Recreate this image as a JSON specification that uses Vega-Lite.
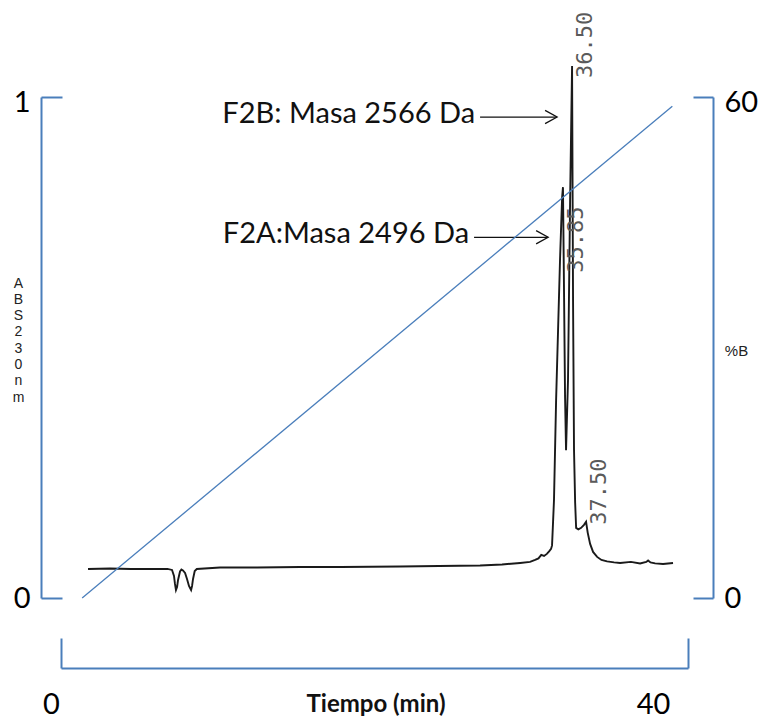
{
  "$schema": "https://vega.github.io/schema/vega-lite/v6.json",
  "width": 627,
  "height": 501,
  "autosize": {"type": "none"},
  "padding": {"left": 61, "top": 97, "right": 74, "bottom": 121},
  "background": "white",
  "config": {"view": {"stroke": null}},
  "datasets": {
    "chromatogram": [
      {"t": 1.93, "a": 0.058}, {"t": 3.5, "a": 0.059}, {"t": 5.0, "a": 0.058}, {"t": 6.36, "a": 0.058},
      {"t": 7.6, "a": 0.058}, {"t": 7.93, "a": 0.056}, {"t": 8.07, "a": 0.044}, {"t": 8.14, "a": 0.028},
      {"t": 8.21, "a": 0.016}, {"t": 8.29, "a": 0.022}, {"t": 8.36, "a": 0.036}, {"t": 8.5, "a": 0.053},
      {"t": 8.6, "a": 0.057}, {"t": 8.71, "a": 0.055}, {"t": 8.86, "a": 0.05}, {"t": 9.0, "a": 0.038},
      {"t": 9.14, "a": 0.024}, {"t": 9.29, "a": 0.016}, {"t": 9.36, "a": 0.024}, {"t": 9.43, "a": 0.038},
      {"t": 9.55, "a": 0.054}, {"t": 9.7, "a": 0.058}, {"t": 11.36, "a": 0.061}, {"t": 14.0, "a": 0.061},
      {"t": 17.07, "a": 0.062}, {"t": 20.0, "a": 0.062}, {"t": 24.21, "a": 0.063}, {"t": 27.0, "a": 0.064},
      {"t": 29.93, "a": 0.065}, {"t": 31.5, "a": 0.067}, {"t": 32.79, "a": 0.07}, {"t": 33.5, "a": 0.072},
      {"t": 33.86, "a": 0.076}, {"t": 34.1, "a": 0.079}, {"t": 34.3, "a": 0.086}, {"t": 34.5, "a": 0.084},
      {"t": 34.7, "a": 0.088}, {"t": 34.86, "a": 0.093}, {"t": 35.0, "a": 0.098}, {"t": 35.07, "a": 0.105},
      {"t": 35.14, "a": 0.15}, {"t": 35.21, "a": 0.196}, {"t": 35.36, "a": 0.395}, {"t": 35.5, "a": 0.535},
      {"t": 35.64, "a": 0.675}, {"t": 35.79, "a": 0.8}, {"t": 35.85, "a": 0.82}, {"t": 35.93, "a": 0.6},
      {"t": 36.0, "a": 0.4}, {"t": 36.07, "a": 0.295}, {"t": 36.21, "a": 0.435}, {"t": 36.36, "a": 0.794},
      {"t": 36.5, "a": 1.062}, {"t": 36.57, "a": 0.595}, {"t": 36.64, "a": 0.295}, {"t": 36.72, "a": 0.19},
      {"t": 36.79, "a": 0.14}, {"t": 36.95, "a": 0.137}, {"t": 37.15, "a": 0.14}, {"t": 37.35, "a": 0.146},
      {"t": 37.5, "a": 0.152}, {"t": 37.62, "a": 0.13}, {"t": 37.79, "a": 0.108}, {"t": 38.0, "a": 0.092},
      {"t": 38.29, "a": 0.082}, {"t": 38.6, "a": 0.076}, {"t": 39.0, "a": 0.073}, {"t": 39.5, "a": 0.071},
      {"t": 39.93, "a": 0.07}, {"t": 40.7, "a": 0.072}, {"t": 41.36, "a": 0.069}, {"t": 41.8, "a": 0.072},
      {"t": 41.93, "a": 0.075}, {"t": 42.1, "a": 0.071}, {"t": 42.43, "a": 0.069}, {"t": 43.0, "a": 0.068},
      {"t": 43.71, "a": 0.07}
    ],
    "peaks": [
      {"rt": "35.85", "t": 35.85, "a": 0.649},
      {"rt": "36.50", "t": 36.5, "a": 1.038},
      {"rt": "37.50", "t": 37.5, "a": 0.146}
    ],
    "fractions": [
      {"label": "F2B: Masa 2566 Da", "t0": 29.93, "t": 35.43, "a": 0.96},
      {"label": "F2A:Masa 2496 Da", "t0": 29.5, "t": 34.79, "a": 0.72}
    ],
    "gradient": [
      {"t": 1.35, "b": 0},
      {"t": 39.0, "b": 58.9}
    ]
  },
  "layer": [
    {
      "encoding": {
        "x": {"field": "t", "type": "quantitative", "scale": {"domain": [0, 44.78], "nice": false, "zero": false}, "axis": null},
        "y": {
          "field": "a", "type": "quantitative",
          "scale": {"domain": [0, 1], "nice": false},
          "axis": {
            "orient": "left", "offset": 20, "values": [0, 1], "format": "d",
            "grid": false,
            "domainColor": "#4a7ebb", "domainWidth": 2,
            "tickColor": "#4a7ebb", "tickWidth": 2, "tickSize": -21,
            "labelFont": "Lato", "labelFontSize": 29, "labelColor": "#000000",
            "labelPadding": 32, "labelBaseline": "middle", "labelFlush": false,
            "labelOffset": {"condition": {"test": "datum.value === 1", "value": 5}, "value": 0},
            "title": ["A", "B", "S", "2", "3", "0", "n", "m"],
            "titleAngle": 0, "titleFont": "Liberation Sans", "titleFontSize": 14,
            "titleFontWeight": "normal", "titleColor": "#222222",
            "titleLineHeight": 16.3, "titleX": -23, "titleY": 186,
            "titleAlign": "center", "titleBaseline": "middle"
          }
        }
      },
      "layer": [
        {
          "data": {"name": "chromatogram"},
          "mark": {"type": "line", "color": "#1a1a1a", "strokeWidth": 1.9}
        },
        {
          "data": {"name": "peaks"},
          "mark": {"type": "text", "angle": 270, "align": "left", "baseline": "top", "dy": 3, "font": "DejaVu Sans Mono", "fontSize": 22, "color": "#5a5a5a"},
          "encoding": {"text": {"field": "rt"}}
        },
        {
          "data": {"name": "fractions"},
          "mark": {"type": "rule", "color": "#111111", "strokeWidth": 1.3},
          "encoding": {
            "x": {"field": "t0", "type": "quantitative", "scale": {"domain": [0, 44.78], "nice": false, "zero": false}, "axis": null},
            "x2": {"field": "t"}
          }
        },
        {
          "data": {"name": "fractions"},
          "mark": {"type": "point", "shape": "M-1,-0.55L0,0L-1,0.55", "filled": false, "size": 576, "stroke": "#111111", "strokeWidth": 1.3, "opacity": 1}
        },
        {
          "data": {"name": "fractions"},
          "mark": {"type": "text", "align": "right", "baseline": "middle", "dx": -5, "dy": -3, "font": "Lato", "fontSize": 29, "color": "#111111"},
          "encoding": {
            "x": {"field": "t0", "type": "quantitative", "scale": {"domain": [0, 44.78], "nice": false, "zero": false}, "axis": null},
            "text": {"field": "label"}
          }
        }
      ]
    },
    {
      "data": {"name": "gradient"},
      "mark": {"type": "line", "color": "#4a7ebb", "strokeWidth": 1.3},
      "encoding": {
        "x": {
          "field": "t", "type": "quantitative",
          "scale": {"domain": [0, 40], "nice": false, "zero": false},
          "axis": {
            "orient": "bottom", "offset": 70, "values": [0, 40], "format": "d",
            "grid": false,
            "domainColor": "#4a7ebb", "domainWidth": 2,
            "tickColor": "#4a7ebb", "tickWidth": 2, "tickSize": -30,
            "labelFont": "Lato", "labelFontSize": 29, "labelColor": "#000000",
            "labelPadding": 52, "labelBaseline": "top", "labelFlush": false,
            "labelOffset": {"condition": {"test": "datum.value === 0", "value": -10}, "value": -35},
            "title": "Tiempo (min)", "titleFont": "Lato", "titleFontSize": 24,
            "titleFontWeight": "bold", "titleColor": "#111111",
            "titleX": 314.5, "titleY": 43, "titleAlign": "center", "titleBaseline": "alphabetic"
          }
        },
        "y": {
          "field": "b", "type": "quantitative",
          "scale": {"domain": [0, 60], "nice": false},
          "axis": {
            "orient": "right", "offset": 25, "values": [0, 60], "format": "d",
            "grid": false,
            "domainColor": "#4a7ebb", "domainWidth": 2,
            "tickColor": "#4a7ebb", "tickWidth": 2, "tickSize": -20,
            "labelFont": "Lato", "labelFontSize": 29, "labelColor": "#000000",
            "labelPadding": 31, "labelBaseline": "middle", "labelFlush": false,
            "labelOffset": {"condition": {"test": "datum.value === 60", "value": 5}, "value": 0},
            "title": "%B", "titleAngle": 0, "titleFont": "Liberation Sans", "titleFontSize": 15,
            "titleFontWeight": "normal", "titleColor": "#222222",
            "titleX": 23, "titleY": 253, "titleAlign": "center", "titleBaseline": "middle"
          }
        }
      }
    }
  ],
  "resolve": {
    "scale": {"x": "independent", "y": "independent"},
    "axis": {"x": "independent", "y": "independent"}
  }
}
